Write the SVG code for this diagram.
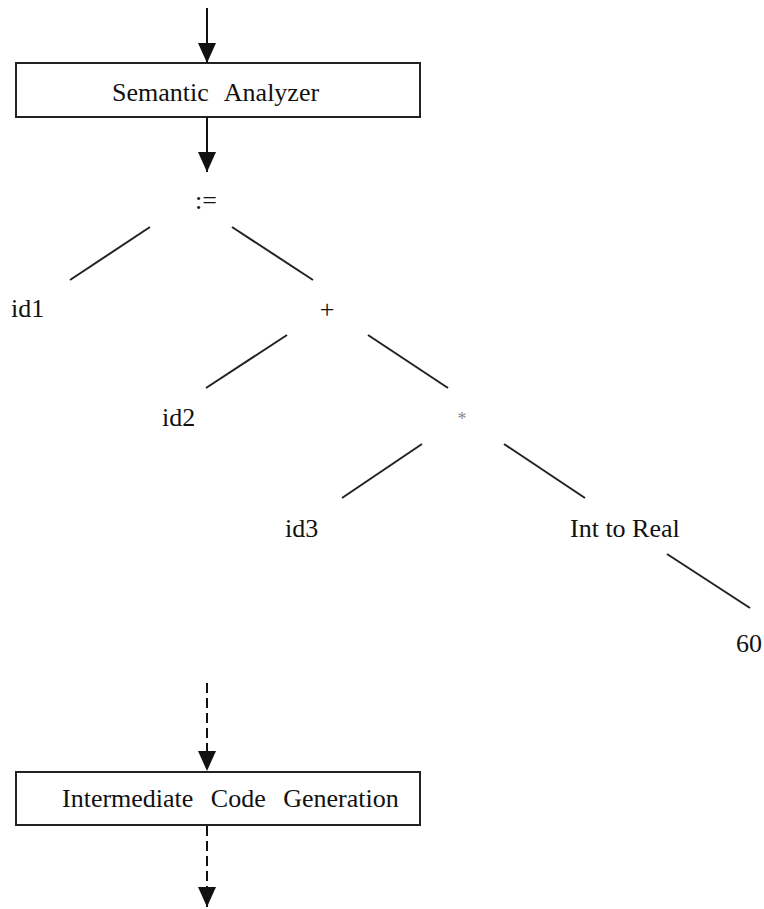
<svg xmlns="http://www.w3.org/2000/svg" width="764" height="909" viewBox="0 0 764 909">
  <style>
    .lbl { font-family: "Liberation Serif", "Times New Roman", serif; font-size: 26px; fill: #111; }
    .box { fill: #fff; stroke: #222; stroke-width: 2; }
    .edge { stroke: #222; stroke-width: 2; fill: none; }
    .flow { stroke: #111; stroke-width: 2; fill: none; }
    .dash { stroke-dasharray: 10 5; }
  </style>
  <defs>
    <marker id="head" viewBox="0 0 20 18" refX="20" refY="9" markerWidth="20" markerHeight="18" markerUnits="userSpaceOnUse" orient="auto">
      <path d="M0,0 L20,9 L0,18 Z" fill="#111"/>
    </marker>
  </defs>
  <rect width="764" height="909" fill="#fff"/>

  <!-- phase boxes -->
  <g id="semantic-analyzer">
    <rect class="box" x="16" y="63" width="404" height="54"/>
    <text class="lbl" x="112" y="101" word-spacing="10">Semantic Analyzer</text>
  </g>
  <g id="intermediate-code-generation">
    <rect class="box" x="16" y="772" width="404" height="53"/>
    <text class="lbl" x="62" y="807" word-spacing="11">Intermediate Code Generation</text>
  </g>

  <!-- syntax tree nodes -->
  <g id="assign"><text class="lbl" x="206" y="209" text-anchor="middle">:=</text></g>
  <g id="id1"><text class="lbl" x="11" y="317">id1</text></g>
  <g id="plus"><text class="lbl" x="327" y="318" text-anchor="middle">+</text></g>
  <g id="id2"><text class="lbl" x="162" y="426">id2</text></g>
  <g id="mul"><text class="lbl" x="462" y="425" text-anchor="middle" style="fill:#888;font-size:18px">*</text></g>
  <g id="id3"><text class="lbl" x="285" y="537">id3</text></g>
  <g id="inttoreal"><text class="lbl" x="570" y="537">Int to Real</text></g>
  <g id="n60"><text class="lbl" x="736" y="652">60</text></g>

  <!-- connectors -->
  <g id="connectors">
    <line class="flow" x1="207" y1="8" x2="207" y2="63" marker-end="url(#head)"/>
    <line class="flow" x1="207" y1="117" x2="207" y2="172" marker-end="url(#head)"/>
    <line class="flow dash" x1="207" y1="683" x2="207" y2="771" marker-end="url(#head)"/>
    <line class="flow dash" x1="207" y1="826" x2="207" y2="907" marker-end="url(#head)"/>

    <line class="edge" x1="150" y1="227" x2="70" y2="280"/>
    <line class="edge" x1="232" y1="227" x2="313" y2="280"/>
    <line class="edge" x1="287" y1="335" x2="206" y2="388"/>
    <line class="edge" x1="368" y1="335" x2="448" y2="388"/>
    <line class="edge" x1="422" y1="444" x2="342" y2="498"/>
    <line class="edge" x1="504" y1="444" x2="585" y2="498"/>
    <line class="edge" x1="667" y1="554" x2="750" y2="608"/>
  </g>
</svg>
